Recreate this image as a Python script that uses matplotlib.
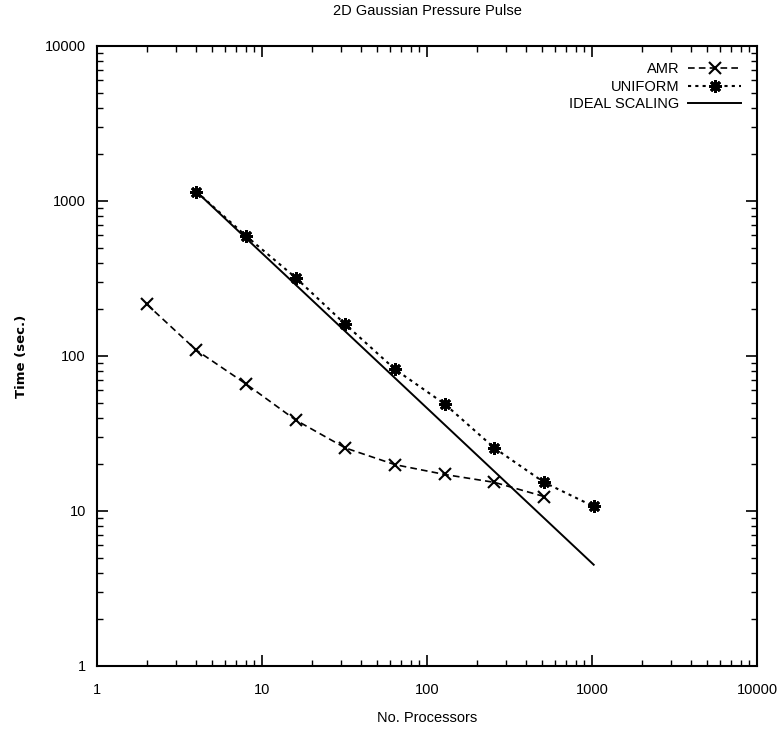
import matplotlib
matplotlib.use('Agg')
import matplotlib.pyplot as plt
from matplotlib.ticker import LogLocator, FixedLocator, FixedFormatter, NullFormatter

plt.rcParams['font.family'] = ['Liberation Sans', 'DejaVu Sans']

# values
amr_procs = [2, 4, 8, 16, 32, 64, 128, 256, 512]
amr_time = [216, 109, 66, 38.6, 25.5, 19.9, 17.2, 15.3, 12.4]

uniform_procs = [4, 8, 16, 32, 64, 128, 256, 512, 1024]
uniform_time = [1150, 595, 320, 160, 82, 49, 25.5, 15.3, 10.7]

ideal_procs = [4, 8, 16, 32, 64, 128, 256, 512, 1024]
ideal_time = [1150, 575, 288, 144, 72, 36, 18, 9, 4.5]

tick_vals = [1, 10, 100, 1000, 10000]
tick_labels = ['1', '10', '100', '1000', '10000']

fig = plt.figure(figsize=(7.78, 7.30), dpi=100)
ax = fig.add_axes([0.1247, 0.0877, 0.8483, 0.8493])

ax.plot(amr_procs, amr_time, color='black', linestyle=(0, (4, 2.5)), linewidth=1.2,
        marker='x', markersize=8, markeredgewidth=1.5, label='AMR')
ax.plot(uniform_procs, uniform_time, color='black', linestyle=(0, (1.5, 2)), linewidth=1.5,
        marker=(8, 2, 0), markersize=9, markeredgewidth=2, label='UNIFORM')
ax.plot(ideal_procs, ideal_time, color='black', linestyle='-', linewidth=1.4,
        label='IDEAL SCALING')

ax.set_xscale('log')
ax.set_yscale('log')
ax.set_xlim(1, 10000)
ax.set_ylim(1, 10000)

for axis in (ax.xaxis, ax.yaxis):
    axis.set_major_locator(FixedLocator(tick_vals))
    axis.set_major_formatter(FixedFormatter(tick_labels))
    axis.set_minor_locator(LogLocator(base=10, subs=range(2, 10), numticks=20))
    axis.set_minor_formatter(NullFormatter())

ax.tick_params(which='major', direction='in', length=8, width=1.2, top=True, right=True,
               labelsize=10.5)
ax.tick_params(axis='y', which='major', pad=8)
ax.tick_params(axis='x', which='major', pad=12)
ax.tick_params(which='minor', direction='in', length=4, width=1.0, top=True, right=True)
for s in ax.spines.values():
    s.set_linewidth(1.5)

ax.set_title('2D Gaussian Pressure Pulse', fontsize=10.5, pad=22)
ax.set_xlabel('No. Processors', fontsize=10.5, labelpad=10)
ax.set_ylabel('Time (sec.)', fontsize=9.5, fontweight='bold', family='DejaVu Sans', labelpad=12)

leg = ax.legend(loc='upper right', frameon=False, markerfirst=False, numpoints=1,
                handlelength=3.6, handletextpad=0.6, labelspacing=0.25, fontsize=10.5,
                borderaxespad=0.7)

fig.savefig('out.png', dpi=100)
